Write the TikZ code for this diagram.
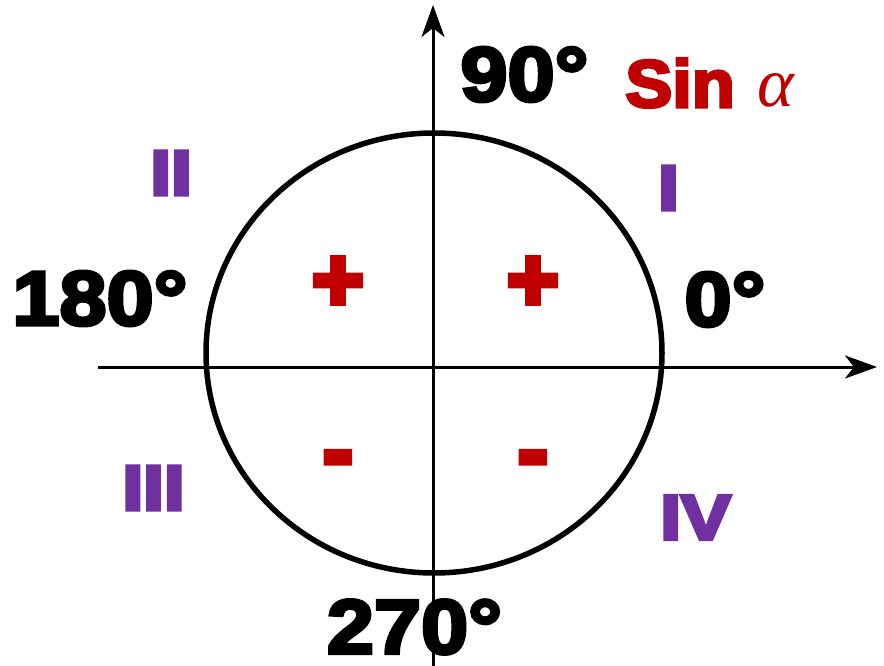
\documentclass[tikz,border=0pt]{standalone}
\usepackage{fontspec}
\usetikzlibrary{arrows.meta}
\newfontfamily\blk{Liberation Sans Bold}[FakeBold=4.5,FakeStretch=1.1]
\newfontfamily\blkq{Liberation Sans Bold}[FakeBold=6.5,FakeStretch=1.18]
\newfontfamily\blks{Liberation Sans Bold}[FakeBold=7]
\newfontfamily\blkn{Liberation Sans Bold}[FakeBold=4.5,FakeStretch=1.05]
\newfontfamily\serifit{Liberation Serif Italic}
\definecolor{sred}{HTML}{C00000}
\definecolor{qpurple}{HTML}{7030A0}
\tikzset{
  axis/.style={line width=3pt,-{Stealth[length=32pt,width=23pt,inset=9pt]}},
  deg/.style={inner sep=0pt,font=\blk\fontsize{77}{80}\selectfont,text=black},
  quad/.style={inner sep=0pt,font=\blkq\fontsize{63}{64}\selectfont,text=qpurple},
  sign/.style={inner sep=0pt,font=\blks\fontsize{88}{90}\selectfont,text=sred},
}
\begin{document}
\begin{tikzpicture}[x=1pt,y=-1pt]
\useasboundingbox (0,0) rectangle (884,666);
% texts
\node[deg] (n90) at (524.5,74.5) {90°};
\node[deg] (n180) at (100,298.5) {180°};
\node[deg] (n0) at (725,299.5) {0°};
\node[deg] (n270) at (414.5,627) {270°};
\node[anchor=base east,inner sep=0pt,font=\blkn\fontsize{67}{70}\selectfont,text=sred] (sin) at (735,107) {Sin};
\node[anchor=base,inner sep=0pt,font=\serifit\fontsize{70}{72}\selectfont,text=sred] (alpha) at (776,107) {α};
\node[quad] (q2) at (171,173) {II};
\node[quad] (q1) at (668.5,188) {I};
\node[quad] (q3) at (153.5,488) {III};
\node[quad] (q4) at (695.5,517.5) {IV};
\node[sign] (p2) at (338,284) {+};
\node[sign] (p1) at (533,284) {+};
\node[sign] (m3) at (338,466) {-};
\node[sign] (m4) at (533,466) {-};
% circle
\draw[line width=5.5pt] (434,353) ellipse [x radius=228, y radius=220];
% axes
\coordinate (xs) at (98,367);
\coordinate (xe) at (877,367);
\coordinate (ys) at (433,666);
\coordinate (ye) at (433,5);
\draw[axis] (xs) -- (xe);
\draw[axis] (ys) -- (ye);
\end{tikzpicture}
\end{document}
